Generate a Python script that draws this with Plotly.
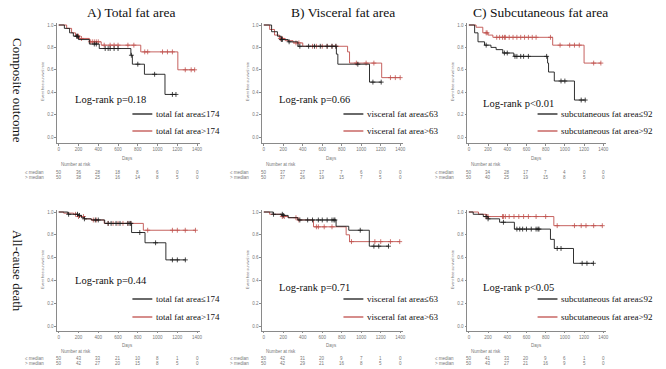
import plotly.graph_objects as go

# ---------------- data ----------------
col_titles = ["A) Total fat area", "B) Visceral fat area", "C) Subcutaneous fat area"]
row_titles = ["Composite outcome", "All-cause death"]
logrank = [["Log-rank p=0.18", "Log-rank p=0.66", "Log-rank p<0.01"],
           ["Log-rank p=0.44", "Log-rank p=0.71", "Log-rank p<0.05"]]
legend_low = ["total fat area\u2264174", "visceral fat area\u226463", "subcutaneous fat area\u226492"]
legend_high = ["total fat area>174", "visceral fat area>63", "subcutaneous fat area>92"]
risk_times = [0, 200, 400, 600, 800, 1000, 1200, 1400]
risk_labels = ["\u2264 median", "> median"]

# Top row (composite outcome)
A1_low_t = [0, 57, 110, 148, 200, 310, 410, 730, 745, 867, 1075]
A1_low_s = [1.0, 0.97, 0.93, 0.90, 0.87, 0.83, 0.79, 0.73, 0.65, 0.56, 0.38]
A1_low_c = [180, 190, 360, 380, 470, 500, 520, 560, 600, 735, 800, 970, 1150, 1186]
A1_high_t = [0, 80, 130, 170, 210, 310, 430, 830, 1205]
A1_high_s = [1.0, 0.97, 0.93, 0.90, 0.88, 0.85, 0.82, 0.76, 0.60]
A1_high_c = [190, 200, 230, 320, 340, 360, 380, 400, 460, 520, 560, 600, 700, 760, 870, 900, 1050, 1100, 1150, 1280, 1340, 1375]

B1_low_t = [0, 80, 140, 180, 250, 350, 745, 760, 1085]
B1_low_s = [1.0, 0.94, 0.90, 0.87, 0.85, 0.81, 0.74, 0.65, 0.49]
B1_low_c = [180, 190, 260, 370, 460, 520, 580, 650, 700, 740, 965, 1120, 1205]
B1_high_t = [0, 60, 110, 160, 220, 300, 400, 860, 880, 1210]
B1_high_s = [1.0, 0.96, 0.91, 0.88, 0.86, 0.84, 0.81, 0.76, 0.66, 0.53]
B1_high_c = [170, 190, 330, 360, 500, 540, 600, 650, 700, 740, 950, 1050, 1130, 1300, 1350, 1400]

C1_low_t = [0, 60, 95, 163, 230, 284, 353, 468, 820, 830, 890, 1100]
C1_low_s = [1.0, 0.93, 0.85, 0.82, 0.80, 0.78, 0.75, 0.72, 0.66, 0.58, 0.50, 0.33]
C1_low_c = [180, 370, 400, 480, 500, 540, 570, 620, 810, 960, 1000, 1170, 1212]
C1_high_t = [0, 75, 145, 200, 250, 873, 1200]
C1_high_s = [1.0, 0.98, 0.93, 0.91, 0.89, 0.82, 0.66]
C1_high_c = [180, 190, 290, 320, 350, 370, 380, 420, 460, 500, 540, 580, 620, 660, 700, 850, 950, 1050, 1100, 1150, 1300, 1375]

# Bottom row (all-cause death)
A2_low_t = [0, 92, 200, 230, 260, 330, 465, 737, 873, 1084]
A2_low_s = [1.0, 0.98, 0.97, 0.95, 0.94, 0.93, 0.90, 0.82, 0.73, 0.58]
A2_low_c = [100, 190, 210, 260, 370, 400, 500, 530, 580, 620, 700, 720, 730, 820, 980, 1150, 1200, 1281]
A2_high_t = [0, 50, 150, 190, 260, 330, 460, 856]
A2_high_s = [1.0, 0.99, 0.98, 0.96, 0.94, 0.93, 0.90, 0.84]
A2_high_c = [170, 200, 250, 350, 380, 500, 550, 600, 650, 700, 730, 900, 1150, 1200, 1280, 1383]

B2_low_t = [0, 95, 200, 250, 350, 742, 872, 1083]
B2_low_s = [1.0, 0.98, 0.97, 0.95, 0.93, 0.875, 0.84, 0.70]
B2_low_c = [100, 190, 200, 370, 450, 500, 560, 600, 650, 700, 720, 730, 990, 1130, 1180, 1280]
B2_high_t = [0, 60, 180, 250, 350, 510, 845, 880]
B2_high_s = [1.0, 0.98, 0.96, 0.95, 0.93, 0.87, 0.80, 0.74]
B2_high_c = [190, 210, 330, 360, 540, 560, 620, 700, 900, 1140, 1200, 1300, 1395]

C2_low_t = [0, 45, 150, 200, 320, 474, 850, 890, 1090]
C2_low_s = [1.0, 0.98, 0.96, 0.94, 0.91, 0.85, 0.76, 0.68, 0.55]
C2_low_c = [180, 200, 360, 500, 530, 560, 600, 650, 700, 720, 730, 920, 960, 1180, 1230, 1297]
C2_high_t = [0, 100, 180, 885]
C2_high_s = [1.0, 0.98, 0.96, 0.88]
C2_high_c = [180, 190, 200, 350, 360, 380, 420, 470, 520, 570, 620, 700, 800, 920, 1100, 1170, 1220, 1300, 1390]

A1_risk_low = [50, 36, 28, 18, 8, 6, 0, 0]
A1_risk_high = [50, 38, 25, 16, 14, 8, 5, 0]
B1_risk_low = [50, 37, 27, 17, 7, 6, 0, 0]
B1_risk_high = [50, 37, 26, 19, 15, 7, 5, 0]
C1_risk_low = [50, 34, 28, 17, 7, 4, 0, 0]
C1_risk_high = [50, 40, 25, 19, 15, 8, 5, 0]
A2_risk_low = [50, 43, 33, 21, 10, 8, 1, 0]
A2_risk_high = [50, 42, 27, 20, 15, 8, 5, 0]
B2_risk_low = [50, 42, 31, 20, 9, 7, 1, 0]
B2_risk_high = [50, 42, 29, 21, 16, 8, 5, 0]
C2_risk_low = [50, 41, 33, 20, 9, 6, 1, 0]
C2_risk_high = [50, 43, 27, 21, 16, 9, 5, 0]

panels = [
    [(A1_low_t, A1_low_s, A1_low_c, A1_high_t, A1_high_s, A1_high_c, A1_risk_low, A1_risk_high),
     (B1_low_t, B1_low_s, B1_low_c, B1_high_t, B1_high_s, B1_high_c, B1_risk_low, B1_risk_high),
     (C1_low_t, C1_low_s, C1_low_c, C1_high_t, C1_high_s, C1_high_c, C1_risk_low, C1_risk_high)],
    [(A2_low_t, A2_low_s, A2_low_c, A2_high_t, A2_high_s, A2_high_c, A2_risk_low, A2_risk_high),
     (B2_low_t, B2_low_s, B2_low_c, B2_high_t, B2_high_s, B2_high_c, B2_risk_low, B2_risk_high),
     (C2_low_t, C2_low_s, C2_low_c, C2_high_t, C2_high_s, C2_high_c, C2_risk_low, C2_risk_high)],
]

# ---------------- layout geometry (pixels) ----------------
W, H = 666, 369
def px(x):
    return x / W
def py(y):
    return 1 - y / H

col_x = [(59, 198), (265, 402), (471, 606)]          # pixel of day 0 and day 1400
row_y = [(25, 137, -0.055), (212, 326, -0.04)]       # pixel of 1.0, 0.0, y-range min
XR = [-15, 1430]
YTOP = 1.02

BLACK = "#1a1a1a"
RED = "#c0504d"
SERIF = "Liberation Serif"
SANS = "Liberation Sans"
GRAY = "#777"

def step_at(ts, ss, t):
    v = ss[0]
    for ti, si in zip(ts, ss):
        if ti <= t:
            v = si
    return v

def ann(text, x, y, size, family=SANS, color=GRAY, xanchor="center", xref="paper", angle=0):
    return dict(text=text, xref=xref, yref="paper", x=x, y=y, xanchor=xanchor, yanchor="middle",
                textangle=angle, showarrow=False, font=dict(family=family, size=size, color=color))

fig = go.Figure()
layout = dict(width=W, height=H, margin=dict(l=0, r=0, t=0, b=0),
              paper_bgcolor="white", plot_bgcolor="white", showlegend=False)
annotations = []
shapes = []

k = 0
for r in range(2):
    y1p, y0p, ymin = row_y[r]
    sc_y = y0p - y1p
    dom_top = y1p - (YTOP - 1.0) * sc_y
    dom_bot = y0p - ymin * sc_y
    for c in range(3):
        k += 1
        x0p, x1p = col_x[c]
        sc_x = (x1p - x0p) / 1400
        dom_l = x0p + XR[0] * sc_x
        dom_r = x0p + XR[1] * sc_x
        xa = "xaxis" if k == 1 else f"xaxis{k}"
        ya = "yaxis" if k == 1 else f"yaxis{k}"
        xr = "x" if k == 1 else f"x{k}"
        yr = "y" if k == 1 else f"y{k}"
        axis_common = dict(showgrid=False, zeroline=False, showline=True, linecolor="#8a8a8a",
                           linewidth=0.8, ticks="outside", ticklen=2, tickcolor="#8a8a8a",
                           tickwidth=0.8, tickfont=dict(family=SANS, size=4.5, color=GRAY))
        layout[xa] = dict(domain=[px(dom_l), px(dom_r)], range=XR, anchor=yr,
                          tickvals=risk_times, **axis_common)
        layout[ya] = dict(domain=[py(dom_bot), py(dom_top)], range=[ymin, YTOP], anchor=xr,
                          tickvals=[0, 0.2, 0.4, 0.6, 0.8, 1.0], tickformat=".1f", **axis_common)

        lt, ls, lc, ht, hs, hc, rl, rh = panels[r][c]
        for ts, ss, cs, col in [(ht, hs, hc, RED), (lt, ls, lc, BLACK)]:
            end = max(cs + [ts[-1]])
            fig.add_trace(go.Scatter(x=ts + [end], y=ss + [ss[-1]], mode="lines",
                                     line=dict(color=col, width=0.9, shape="hv"),
                                     xaxis=xr, yaxis=yr, hoverinfo="skip"))
            fig.add_trace(go.Scatter(x=cs, y=[step_at(ts, ss, t) for t in cs], mode="markers",
                                     marker=dict(symbol="cross-thin", size=3.5,
                                                 line=dict(color=col, width=0.8)),
                                     xaxis=xr, yaxis=yr, hoverinfo="skip"))

        # y axis title
        annotations.append(ann("Event free survival rate", px(x0p - 16), py((y1p + y0p) / 2), 3.8,
                               angle=-90))
        days_y = 158 if r == 0 else 345
        nar_y = 164 if r == 0 else 351
        rows_y = (172, 177.5) if r == 0 else (358, 363.5)
        annotations.append(ann("Days", 700, py(days_y), 4.5, xref=xr))
        annotations.append(ann("Number at risk", px(x0p), py(nar_y), 4.5, xanchor="left"))
        for lab, vals, yy in [(risk_labels[0], rl, rows_y[0]), (risk_labels[1], rh, rows_y[1])]:
            annotations.append(ann(lab, px(x0p - 13), py(yy), 4.5, xanchor="right"))
            for t, v in zip(risk_times, vals):
                annotations.append(ann(str(v), t, py(yy), 4.5, xref=xr))

        # log-rank text
        lr_pos = [[(73, 100), (278, 99), (483, 103)], [(73, 280), (278, 287), (483, 287)]][r][c]
        annotations.append(ann(logrank[r][c], px(lr_pos[0]), py(lr_pos[1]), 10.5, family=SERIF,
                               color="#111", xanchor="left"))
        # legend
        lg_x = [133, 345, 540][c]
        lg_y = [(114, 131), (299, 317)][r]
        for yy, colr, txt in [(lg_y[0], BLACK, legend_low[c]), (lg_y[1], RED, legend_high[c])]:
            shapes.append(dict(type="line", xref="paper", yref="paper", x0=px(lg_x), x1=px(lg_x + 20),
                               y0=py(yy), y1=py(yy), line=dict(color=colr, width=1.3)))
            annotations.append(ann(txt, px(lg_x + 22), py(yy), 9, family=SERIF, color="#111",
                                   xanchor="left"))

# column titles
for c, t in enumerate(col_titles):
    cx = [132, 345, 543][c]
    annotations.append(ann(t, px(cx), py(13), 13.5, family=SERIF, color="#111"))
# row titles
for r, t in enumerate(row_titles):
    cy = [91, 271][r]
    annotations.append(ann(t, px(18), py(cy), 13, family=SERIF, color="#111", angle=90))

layout["annotations"] = annotations
layout["shapes"] = shapes
fig.update_layout(**layout)
fig.write_html("out.html", config={"displayModeBar": False},
               post_script="document.body.style.margin='0px';")
